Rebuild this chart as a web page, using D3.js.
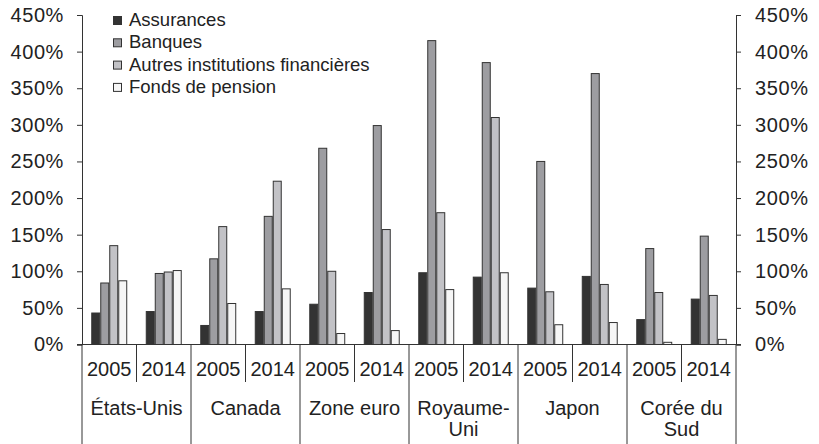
<!DOCTYPE html>
<html>
<head>
<meta charset="utf-8">
<script src="https://cdn.jsdelivr.net/npm/d3@7"></script>
<style>
  body { margin: 0; background: #fff; }
  svg { display: block; font-family: "Liberation Sans", Arial, sans-serif; }
</style>
</head>
<body>
<svg id="chart" width="819" height="444"></svg>
<script>
// données (en % du PIB)
const countries = [["États-Unis"], ["Canada"], ["Zone euro"], ["Royaume-", "Uni"], ["Japon"], ["Corée du", "Sud"]];
const years = ["2005", "2014"];
const seriesNames = ["Assurances", "Banques", "Autres institutions financières", "Fonds de pension"];
const assurances = [43, 45, 26, 45, 55, 71, 98, 92, 77, 93, 34, 62];
const banques = [84, 97, 117, 175, 268, 299, 415, 385, 250, 370, 131, 148];
const autres = [135, 99, 161, 223, 100, 157, 180, 310, 72, 82, 71, 67];
const fonds = [87, 101, 56, 76, 15, 19, 75, 98, 27, 30, 3, 7];
const yTicks = [0, 50, 100, 150, 200, 250, 300, 350, 400, 450];

const colors = ["#333333", "#9d9da1", "#c2c2c6", "#f6f6f6"];
const seriesValues = [assurances, banques, autres, fonds];

const svg = d3.select("#chart");
const m = { left: 82, right: 736, top: 15, bottom: 344.5 };

// une case par pays x année
const slots = [];
countries.forEach((c, i) => years.forEach((yr, j) => slots.push({ key: i + "-" + yr, year: yr, idx: slots.length })));

const x0 = d3.scaleBand().domain(slots.map(d => d.key)).range([m.left, m.right]);
const x1 = d3.scaleBand().domain(seriesNames).range([0, x0.bandwidth()]).paddingOuter(1.03);
const xc = d3.scaleBand().domain(countries.map((c, i) => i)).range([m.left, m.right]);
const y = d3.scaleLinear().domain([0, 450]).range([m.bottom, m.top]);

// axes
const fmt = d => d + "%";
const yl = svg.append("g").attr("transform", `translate(${m.left},0)`)
  .call(d3.axisLeft(y).tickValues(yTicks).tickFormat(fmt).tickSizeOuter(0).tickSize(5).tickPadding(13));
const yr = svg.append("g").attr("transform", `translate(${m.right},0)`)
  .call(d3.axisRight(y).tickValues(yTicks).tickFormat(fmt).tickSizeOuter(0).tickSize(5).tickPadding(14));
[yl, yr].forEach(g => {
  g.attr("font-family", null);
  g.selectAll(".domain").attr("stroke", "#333");
  g.selectAll(".tick line").attr("stroke", "#333");
  g.selectAll(".tick text").attr("font-size", 20).attr("letter-spacing", 0.6).attr("fill", "#222");
});

// barres
const groups = svg.append("g").selectAll("g")
  .data(slots)
  .join("g")
  .attr("transform", d => `translate(${x0(d.key)},0)`);

groups.selectAll("rect")
  .data(d => seriesNames.map((s, k) => ({ s, k, v: seriesValues[k][d.idx] })))
  .join("rect")
  .attr("x", d => x1(d.s) + 0.5)
  .attr("y", d => y(d.v))
  .attr("width", x1.bandwidth() - 1)
  .attr("height", d => m.bottom - y(d.v))
  .attr("fill", d => colors[d.k])
  .attr("stroke", "#333")
  .attr("stroke-width", 1);

// ligne de base
svg.append("line")
  .attr("x1", m.left - 5).attr("x2", m.right + 5)
  .attr("y1", m.bottom).attr("y2", m.bottom)
  .attr("stroke", "#333");

// séparateurs années
svg.append("g").selectAll("line")
  .data(slots.filter(d => d.year === "2014"))
  .join("line")
  .attr("x1", d => x0(d.key)).attr("x2", d => x0(d.key))
  .attr("y1", m.bottom).attr("y2", 382)
  .attr("stroke", "#333");

// séparateurs pays
svg.append("g").selectAll("line")
  .data(d3.range(countries.length + 1))
  .join("line")
  .attr("x1", i => i < countries.length ? xc(i) : m.right)
  .attr("x2", i => i < countries.length ? xc(i) : m.right)
  .attr("y1", m.bottom).attr("y2", 444)
  .attr("stroke", "#333");

// étiquettes années
svg.append("g").selectAll("text")
  .data(slots)
  .join("text")
  .attr("x", d => x0(d.key) + x0.bandwidth() / 2)
  .attr("y", 376)
  .attr("text-anchor", "middle")
  .attr("font-size", 20)
  .attr("fill", "#222")
  .text(d => d.year);

// étiquettes pays
const ct = svg.append("g").selectAll("text")
  .data(countries)
  .join("text")
  .attr("y", 415)
  .attr("text-anchor", "middle")
  .attr("font-size", 20)
  .attr("fill", "#222");
ct.selectAll("tspan")
  .data((d, i) => d.map(t => ({ t, i })))
  .join("tspan")
  .attr("x", d => xc(d.i) + xc.bandwidth() / 2)
  .attr("dy", (d, j) => j === 0 ? 0 : 21)
  .text(d => d.t);

// légende
const leg = svg.append("g").attr("transform", "translate(113,16)");
const li = leg.selectAll("g")
  .data(seriesNames)
  .join("g")
  .attr("transform", (d, i) => `translate(0,${i * 22.3})`);
li.append("rect")
  .attr("x", 0.5).attr("y", 0.5)
  .attr("width", 8).attr("height", 8)
  .attr("fill", (d, i) => colors[i])
  .attr("stroke", "#333");
li.append("text")
  .attr("x", 16).attr("y", 10)
  .attr("font-size", 18.5)
  .attr("fill", "#222")
  .text(d => d);
</script>
</body>
</html>
